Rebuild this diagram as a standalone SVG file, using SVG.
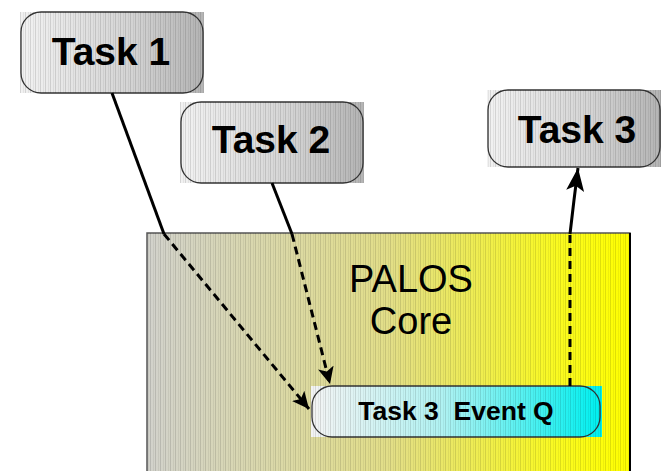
<svg xmlns="http://www.w3.org/2000/svg" width="664" height="471" viewBox="0 0 664 471">
<defs>
<linearGradient id="gGray" x1="0" y1="0" x2="1" y2="0">
<stop offset="0" stop-color="#f2f2f2"/><stop offset="0.6" stop-color="#d4d4d4"/><stop offset="1" stop-color="#b4b4b4"/>
</linearGradient>
<linearGradient id="gCore" x1="0" y1="0" x2="1" y2="0">
<stop offset="0" stop-color="#d2d2cc"/><stop offset="0.5" stop-color="#e2de88"/><stop offset="0.85" stop-color="#fafa20"/><stop offset="1" stop-color="#ffff00"/>
</linearGradient>
<linearGradient id="gCyan" x1="0" y1="0" x2="1" y2="0">
<stop offset="0" stop-color="#f4f4f4"/><stop offset="0.45" stop-color="#b0f2f2"/><stop offset="1" stop-color="#00f0f0"/>
</linearGradient>
<pattern id="stripes" width="5" height="10" patternUnits="userSpaceOnUse">
<rect x="0" y="0" width="1" height="10" fill="#000" fill-opacity="0.12"/>
<rect x="3" y="0" width="1" height="10" fill="#000" fill-opacity="0.06"/>
</pattern>
<marker id="ah" markerUnits="userSpaceOnUse" markerWidth="18" markerHeight="16" refX="17" refY="8" orient="auto">
<path d="M0,0 L17,8 L0,16 L4,8 Z" fill="#000"/>
</marker>
<marker id="ahBig" markerUnits="userSpaceOnUse" markerWidth="24" markerHeight="18" refX="23" refY="9" orient="auto">
<path d="M0,0 L23,9 L0,18 L5,9 Z" fill="#000"/>
</marker>
<style>
.box{stroke:#333;stroke-width:1.3}
.tlabel{font-family:"Liberation Sans",Arial,sans-serif;font-weight:bold;font-size:39px;fill:#000;text-anchor:middle}
.solid{fill:none;stroke:#000;stroke-width:3}
.dash{fill:none;stroke:#000;stroke-width:3;stroke-dasharray:8 5}
</style>
</defs>

<g id="core">
<rect x="147" y="233" width="483" height="245" fill="url(#gCore)" stroke="#555" stroke-width="1.5"/>
<rect x="147" y="233" width="483" height="245" fill="url(#stripes)"/>
<line x1="630" y1="233" x2="630" y2="471" stroke="#000" stroke-width="2"/>
<text x="411" y="292" font-family="'Liberation Sans',Arial,sans-serif" font-size="38" text-anchor="middle" fill="#000">PALOS</text>
<text x="411" y="334" font-family="'Liberation Sans',Arial,sans-serif" font-size="38" text-anchor="middle" fill="#000">Core</text>
</g>

<g id="task1">
<rect x="20" y="12" width="184" height="81" fill="url(#gGray)"/>
<rect x="21" y="12" width="182" height="81" rx="20" fill="url(#gGray)" class="box"/>
<rect x="20" y="12" width="184" height="81" fill="url(#stripes)"/>
<text x="111" y="65" class="tlabel">Task 1</text>
</g>

<g id="task2">
<rect x="180" y="102" width="184" height="81" fill="url(#gGray)"/>
<rect x="181" y="102" width="182" height="81" rx="20" fill="url(#gGray)" class="box"/>
<rect x="180" y="102" width="184" height="81" fill="url(#stripes)"/>
<text x="271" y="153" class="tlabel">Task 2</text>
</g>

<g id="task3">
<rect x="487" y="90" width="174" height="77" fill="url(#gGray)"/>
<rect x="488" y="90" width="172" height="77" rx="20" fill="url(#gGray)" class="box"/>
<rect x="487" y="90" width="174" height="77" fill="url(#stripes)"/>
<text x="577" y="143" class="tlabel">Task 3</text>
</g>

<g id="eventq">
<rect x="311" y="386" width="291" height="51" fill="url(#gCyan)"/>
<rect x="312" y="386" width="288" height="51" rx="20" fill="url(#gCyan)" class="box"/>
<rect x="311" y="386" width="291" height="51" fill="url(#stripes)"/>
<text x="456" y="420" xml:space="preserve" font-family="'Liberation Sans',Arial,sans-serif" font-weight="bold" font-size="26.5" text-anchor="middle" fill="#000">Task 3  Event Q</text>
</g>

<g id="connectors">
<line x1="112" y1="93" x2="164" y2="234" class="solid"/>
<line x1="164" y1="234" x2="309" y2="409" class="dash" marker-end="url(#ah)"/>
<line x1="272" y1="183" x2="292" y2="234" class="solid"/>
<line x1="292" y1="234" x2="330" y2="384" class="dash" marker-end="url(#ah)"/>
<line x1="570" y1="386" x2="570" y2="234" class="dash"/>
<path d="M570,234 L574,200 L578,168" class="solid" marker-end="url(#ahBig)"/>
</g>
</svg>
